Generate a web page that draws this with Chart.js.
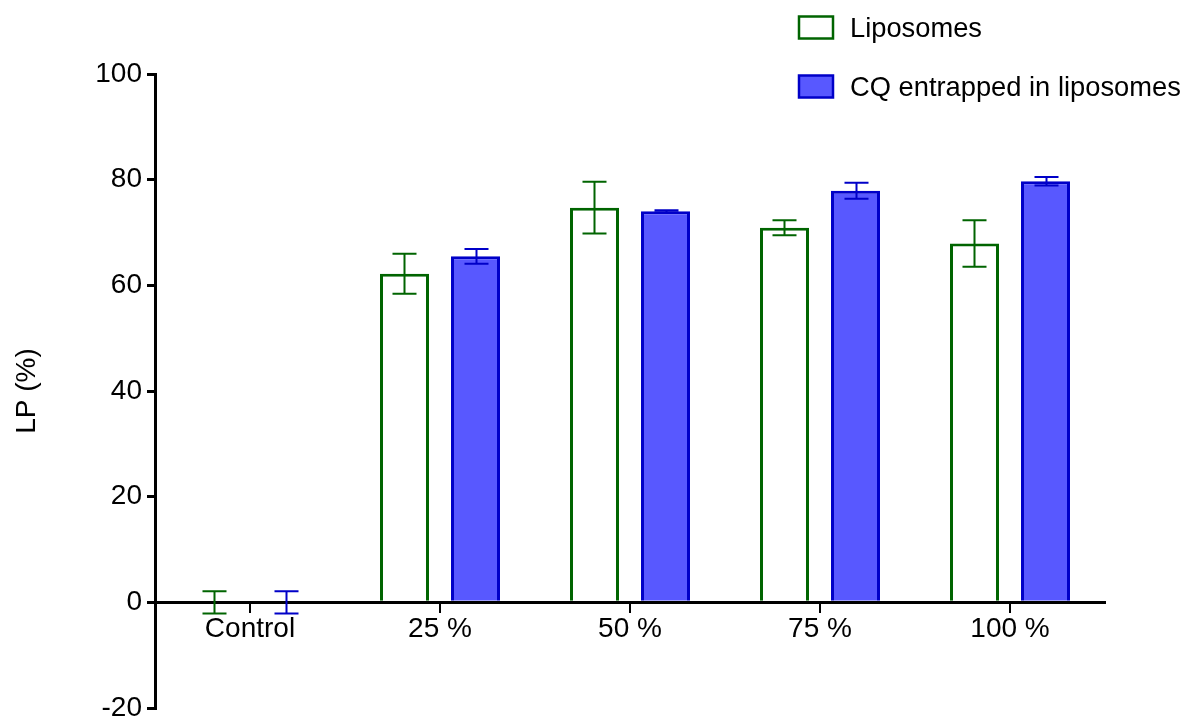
<!DOCTYPE html>
<html>
<head>
<meta charset="utf-8">
<script src="https://cdn.jsdelivr.net/npm/chart.js@4"></script>
<style>
  html, body { margin: 0; padding: 0; background: #ffffff; }
  #wrap { width: 1186px; height: 718px; position: relative; }
</style>
</head>
<body>
<div id="wrap"><canvas id="chart" width="1186" height="718"></canvas></div>
<script>
// Lipid peroxidation by treatment concentration
const categories = ['Control', '25 %', '50 %', '75 %', '100 %'];
const liposomes = [0, 62.2, 74.7, 70.9, 67.9];
const liposomesErr = [2.1, 3.8, 4.9, 1.4, 4.4];
const cqLiposomes = [0, 65.5, 74.0, 77.9, 79.7];
const cqLiposomesErr = [2.1, 1.4, 0.2, 1.5, 0.8];
const yTicks = [-20, 0, 20, 40, 60, 80, 100];

const seriesNames = ['Liposomes', 'CQ entrapped in liposomes'];
const errors = [liposomesErr, cqLiposomesErr];

const GREEN = '#006400';
const BLUE_EDGE = '#0000C8';
const BLUE_FILL = '#5858FF';
const FONT = '"Liberation Sans", Arial, Helvetica, sans-serif';
const FONT_SIZE = 28;
const LEGEND_FONT_SIZE = 27.3;

// Whiskers (mean ± SEM) drawn on top of each bar
const errorBars = {
  id: 'errorBars',
  afterDatasetsDraw(chart) {
    const ctx = chart.ctx;
    const y = chart.scales.y;
    chart.data.datasets.forEach((ds, i) => {
      const meta = chart.getDatasetMeta(i);
      meta.data.forEach((bar, j) => {
        const v = ds.data[j];
        const e = errors[i][j];
        const top = y.getPixelForValue(v + e);
        const bot = y.getPixelForValue(v - e);
        const x = Math.round(bar.x) + 0.5;
        const half = 12;
        ctx.save();
        ctx.strokeStyle = ds.borderColor;
        ctx.lineWidth = 2;
        ctx.beginPath();
        ctx.moveTo(x, top); ctx.lineTo(x, bot);
        ctx.moveTo(x - half, top); ctx.lineTo(x + half, top);
        ctx.moveTo(x - half, bot); ctx.lineTo(x + half, bot);
        ctx.stroke();
        ctx.restore();
      });
    });
  }
};

// Legend stacked in the top right corner
const boxLegend = {
  id: 'boxLegend',
  afterDraw(chart) {
    const ctx = chart.ctx;
    const rows = [27, 86];
    chart.data.datasets.forEach((ds, i) => {
      const cy = rows[i];
      ctx.save();
      ctx.fillStyle = ds.backgroundColor;
      ctx.fillRect(799, cy - 10.5, 34, 22);
      ctx.strokeStyle = ds.borderColor;
      ctx.lineWidth = 2.5;
      ctx.strokeRect(799, cy - 10.5, 34, 22);
      ctx.fillStyle = '#000000';
      ctx.font = LEGEND_FONT_SIZE + 'px ' + FONT;
      ctx.textAlign = 'left';
      ctx.textBaseline = 'middle';
      ctx.fillText(ds.label, 850, cy + 2);
      ctx.restore();
    });
  }
};

new Chart(document.getElementById('chart'), {
  type: 'bar',
  data: {
    labels: categories,
    datasets: [
      {
        label: seriesNames[0],
        data: liposomes,
        backgroundColor: '#ffffff',
        borderColor: GREEN,
        borderWidth: 3
      },
      {
        label: seriesNames[1],
        data: cqLiposomes,
        backgroundColor: BLUE_FILL,
        borderColor: BLUE_EDGE,
        borderWidth: 3
      }
    ]
  },
  options: {
    responsive: false,
    animation: false,
    devicePixelRatio: 1,
    layout: { padding: { left: 0, right: 81, top: 74, bottom: 10 } },
    datasets: { bar: { categoryPercentage: 0.7474, barPercentage: 0.69 } },
    plugins: { legend: { display: false }, tooltip: { enabled: false } },
    scales: {
      x: {
        position: { y: 0 },
        offset: true,
        grid: { display: true, drawOnChartArea: false, drawTicks: true, tickLength: 9, offset: false, color: '#000000', lineWidth: 2 },
        border: { display: true, color: '#000000', width: 3 },
        ticks: { color: '#000000', font: { family: FONT, size: FONT_SIZE }, padding: 1, maxRotation: 0, autoSkip: false },
        afterFit(s) { s.height = 0; s.paddingLeft = 0; s.paddingRight = 0; }
      },
      y: {
        min: yTicks[0],
        max: yTicks[yTicks.length - 1],
        afterBuildTicks(s) { s.ticks = yTicks.map(v => ({ value: v })); },
        grid: { display: true, drawOnChartArea: false, drawTicks: true, tickLength: 8, color: '#000000', lineWidth: 3 },
        border: { display: true, color: '#000000', width: 3 },
        ticks: { color: '#000000', font: { family: FONT, size: FONT_SIZE }, padding: 5 },
        title: { display: true, text: 'LP (%)', color: '#000000', font: { family: FONT, size: FONT_SIZE }, padding: { top: 10, bottom: 0 } },
        afterFit(s) { s.width = 155; s.paddingTop = 0; s.paddingBottom = 0; }
      }
    }
  },
  plugins: [errorBars, boxLegend]
});
</script>
</body>
</html>
